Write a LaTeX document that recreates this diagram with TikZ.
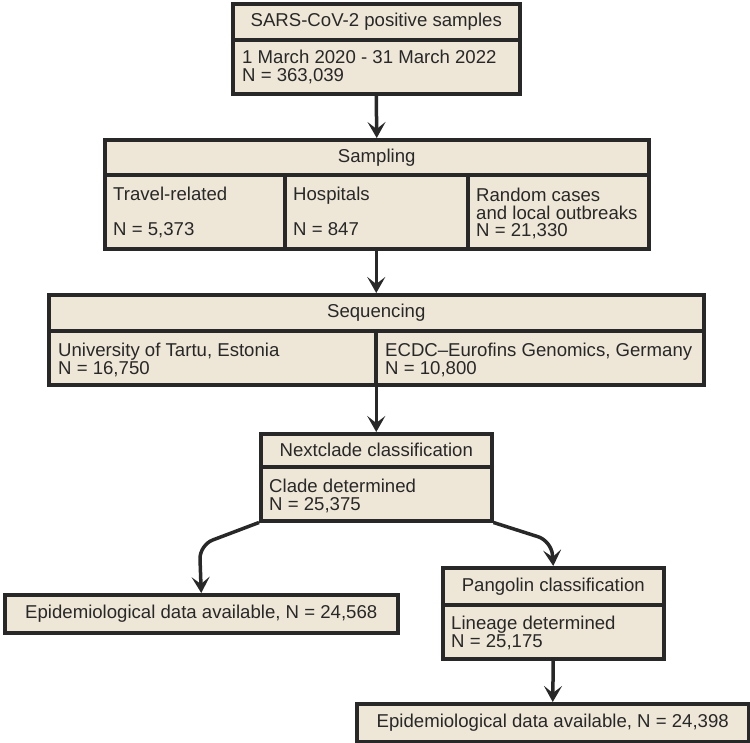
\documentclass[tikz,border=0pt]{standalone}
\usepackage{fontspec}
\setmainfont{Liberation Sans}
\usetikzlibrary{arrows.meta}

\definecolor{boxfill}{RGB}{238,231,215}
\definecolor{boxline}{RGB}{40,40,40}

\tikzset{
    cell/.style={draw=boxline, fill=boxfill, line width=3.5pt, anchor=north west, inner sep=0pt,
                 font=\fontsize{18.6}{17.5}\selectfont, text=boxline},
    body/.style={anchor=north west, align=left, inner sep=0pt,
                 font=\fontsize{18.6}{17.5}\selectfont, text=boxline},
    flow/.style={draw=boxline, line width=3.5pt, -{Stealth[length=16pt, width=18pt, inset=7pt]}}
}

\begin{document}
\begin{tikzpicture}[x=1pt, y=-1pt]
    \useasboundingbox (0,0) rectangle (750,742);
    % samples
    \node[cell, minimum width=287, minimum height=36] (samples)     at (231,2)  {SARS-CoV-2 positive samples};
    \node[cell, minimum width=287, minimum height=54] (samplesBody) at (231,38) {};
    \node[body] (samplesText) at (242,50) {1 March 2020 - 31 March 2022\\N = 363,039};
    % sampling
    \node[cell, minimum width=544, minimum height=35] (sampling) at (103,138) {Sampling};
    \node[cell, minimum width=180, minimum height=74] (travel)   at (103,173) {};
    \node[cell, minimum width=183, minimum height=74] (hosp)     at (283,173) {};
    \node[cell, minimum width=181, minimum height=74] (random)   at (466,173) {};
    \node[body] (travelText) at (113,187) {Travel-related\\[17.5pt]N = 5,373};
    \node[body] (hospText)   at (293,187) {Hospitals\\[17.5pt]N = 847};
    \node[body] (randomText) at (476,188) {Random cases\\and local outbreaks\\N = 21,330};
    % sequencing
    \node[cell, minimum width=655, minimum height=36] (seq)   at (47,293)  {Sequencing};
    \node[cell, minimum width=327, minimum height=54] (tartu) at (47,329)  {};
    \node[cell, minimum width=328, minimum height=54] (ecdc)  at (374,329) {};
    \node[body] (tartuText) at (58,343)  {University of Tartu, Estonia\\N = 16,750};
    \node[body] (ecdcText)  at (385,343) {ECDC--Eurofins Genomics, Germany\\N = 10,800};
    % nextclade
    \node[cell, minimum width=231, minimum height=33] (nextclade) at (259,432) {Nextclade classification};
    \node[cell, minimum width=231, minimum height=54] (cladeBody) at (259,465) {};
    \node[body] (cladeText) at (269,479) {Clade determined\\N = 25,375};
    % epidemiological data, left
    \node[cell, minimum width=393, minimum height=38] (epiA) at (3,593) {Epidemiological data available, N = 24,568};
    % pangolin
    \node[cell, minimum width=221, minimum height=37] (pangolin)    at (441,566) {Pangolin classification};
    \node[cell, minimum width=221, minimum height=54] (lineageBody) at (441,603) {};
    \node[body] (lineageText) at (451,616) {Lineage determined\\N = 25,175};
    % epidemiological data, right
    \node[cell, minimum width=392, minimum height=38] (epiB) at (355,702) {Epidemiological data available, N = 24,398};

    \coordinate (bendA) at (199.5,545);
    \coordinate (bendB) at (551.5,541);

    \draw[flow] (samplesBody.south) -- (sampling.north);
    \draw[flow] (hosp.south) -- (seq.north -| hosp.south);
    \draw[flow] (nextclade.north |- tartu.south east) -- (nextclade.north);
    \draw[flow, rounded corners=14pt] (cladeBody.south west) -- (bendA) -- (epiA.north);
    \draw[flow, rounded corners=14pt] (cladeBody.south east) -- (bendB) -- (pangolin.north);
    \draw[flow] (lineageBody.south) -- (epiB.north);
\end{tikzpicture}
\end{document}
